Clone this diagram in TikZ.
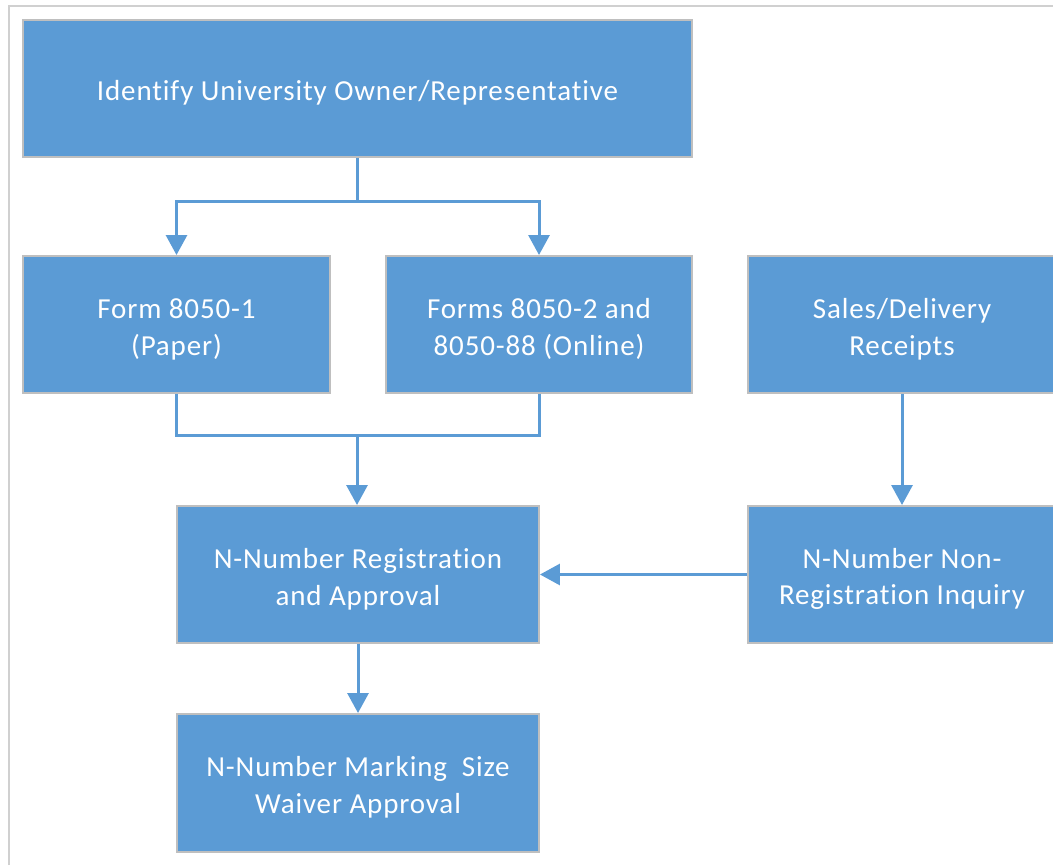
\documentclass[tikz,border=0pt]{standalone}
\usepackage{fontspec}
\setmainfont{Carlito}[Ligatures={NoCommon,NoContextual},LetterSpace=3]
\usetikzlibrary{arrows.meta}
\definecolor{boxblue}{RGB}{91,155,213}
\definecolor{boxedge}{RGB}{191,191,191}
\definecolor{framegray}{RGB}{208,208,208}
\begin{document}
\begin{tikzpicture}[x=0.02cm,y=-0.02cm]
\tikzstyle{box}=[rectangle,draw=boxedge,line width=0.04cm,fill=boxblue,text=white,align=center,minimum width=6.14cm,minimum height=2.74cm,text height=37.5pt,font=\fontsize{16.5}{21}\selectfont]
\tikzstyle{flow}=[draw=boxblue,line width=0.06cm,-{Triangle[width=0.42cm,length=0.4cm]}]
\useasboundingbox (0,0) rectangle (1053,865);
\draw[framegray,line width=0.04cm] (9,865) -- (9,6) -- (1053,6);
\node[box,minimum width=13.38cm,text height=16.5pt] at (357.5,88.5) (top) {Identify University Owner/Representative};
\node[box] at (176.5,324.5) (f1) {Form 8050-1\\(Paper)};
\node[box] at (539,324.5) (f2) {Forms 8050-2 and\\8050-88 (Online)};
\node[box,minimum width=6.16cm] at (902,324.5) (sales) {Sales/Delivery\\Receipts};
\node[box,minimum width=7.24cm] at (358,574.5) (reg) {N-Number Registration\\and Approval};
\node[box,minimum width=6.16cm] at (902,574.5) (nonreg) {N-Number Non-\\Registration Inquiry};
\node[box,minimum width=7.24cm,minimum height=2.76cm] at (358,783) (mark) {N-Number Marking~ Size\\Waiver Approval};
\draw[draw=boxblue,line width=0.06cm] (top.south) -- ++(0,44) coordinate (split);
\draw[flow] (split) -| (f1.north);
\draw[flow] (split) -| (f2.north);
\draw[draw=boxblue,line width=0.06cm] (f1.south) |- (357,435) coordinate (merge) -| (f2.south);
\draw[flow] (merge) -- (merge |- reg.north);
\draw[flow] (sales) -- (nonreg);
\draw[flow] (nonreg) -- (reg);
\draw[flow] (reg) -- (mark);
\end{tikzpicture}
\end{document}
